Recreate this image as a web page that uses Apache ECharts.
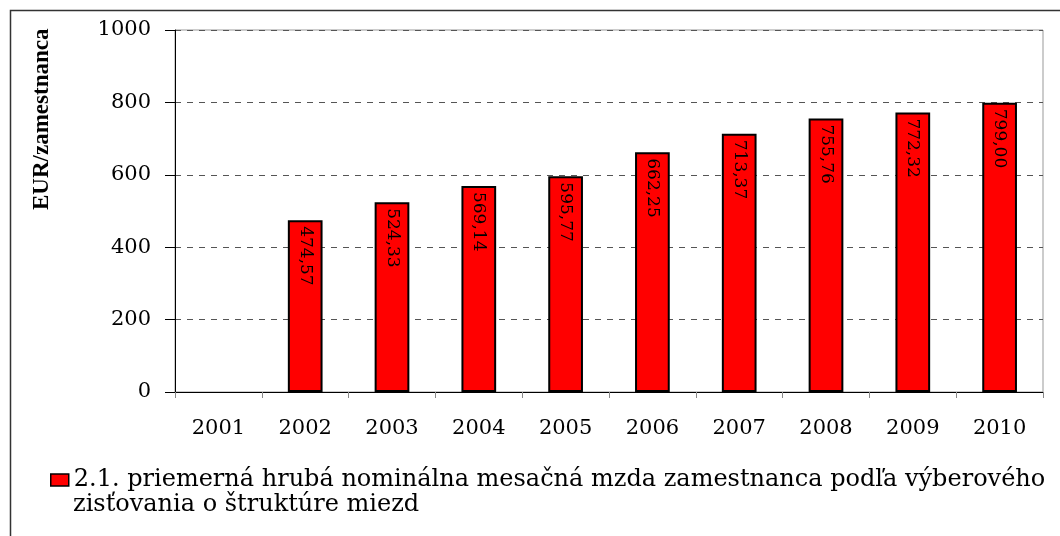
<!DOCTYPE html>
<html>
<head>
<meta charset="utf-8">
<script src="https://cdn.jsdelivr.net/npm/echarts@6/dist/echarts.min.js"></script>
<style>
  html, body, #main { margin: 0; padding: 0; width: 1060px; height: 536px; overflow: hidden; background: #fff; }
</style>
</head>
<body>
<div id="main"></div>
<script>
// data
var years = ["2001", "2002", "2003", "2004", "2005", "2006", "2007", "2008", "2009", "2010"];
var wages = [null, 474.57, 524.33, 569.14, 595.77, 662.25, 713.37, 755.76, 772.32, 799.00];
var seriesName = "2.1. priemerná hrubá nominálna mesačná mzda zamestnanca podľa výberového";
var seriesNameCont = "zisťovania o štruktúre miezd";
var axisTitle = "EUR/zamestnanca";

var serif = "'DejaVu Serif', 'Liberation Serif', serif";

var myChart = echarts.init(document.getElementById("main"));
var option = {
  animation: false,
  grid: {
    left: 175,
    top: 30,
    right: 17,
    bottom: 144,
    show: true,
    borderColor: "#999",
    borderWidth: 1,
    containLabel: false
  },
  graphic: [
    {
      // outer frame
      type: "rect",
      shape: { x: 10.5, y: 10.5, width: 1070, height: 560 },
      style: { fill: "none", stroke: "#333", lineWidth: 1.5 },
      silent: true
    },
    {
      type: "text",
      x: 42,
      y: 210,
      rotation: Math.PI / 2,
      style: {
        text: axisTitle,
        font: "bold 23px 'Liberation Serif', serif",
        fill: "#000",
        textAlign: "left",
        textVerticalAlign: "middle"
      }
    },
    {
      // second line of the legend text
      type: "text",
      x: 73,
      y: 505,
      style: {
        text: seriesNameCont,
        font: "24px " + serif,
        fill: "#000",
        textAlign: "left",
        textVerticalAlign: "middle"
      }
    }
  ],
  legend: {
    left: 45,
    top: 463,
    itemWidth: 18,
    itemHeight: 12,
    itemGap: 8,
    icon: "rect",
    data: [seriesName],
    itemStyle: { borderColor: "#000", borderWidth: 1.5 },
    textStyle: {
      fontFamily: serif,
      fontSize: 24,
      color: "#000",
      padding: [0, 0, 0, 0]
    }
  },
  xAxis: {
    type: "category",
    data: years,
    axisLine: { lineStyle: { color: "#000", width: 1 } },
    axisTick: { show: true, alignWithLabel: false, length: 6, lineStyle: { color: "#888" } },
    axisLabel: { color: "#000", fontFamily: serif, fontSize: 21, margin: 26 }
  },
  yAxis: {
    type: "value",
    min: 0,
    max: 1000,
    interval: 200,
    axisLine: { show: true, lineStyle: { color: "#000", width: 1 } },
    axisTick: { show: true, inside: false, length: 10, lineStyle: { color: "#000", width: 1 } },
    axisLabel: {
      color: "#000",
      fontFamily: serif,
      fontSize: 21,
      margin: 24,
      formatter: function (v) { return String(v); }
    },
    splitLine: { show: true, lineStyle: { color: "#555", type: [6, 6], width: 1 } }
  },
  series: [
    {
      name: seriesName,
      type: "bar",
      data: wages,
      barWidth: "40%",
      itemStyle: { color: "#FF0000", borderColor: "#000", borderWidth: 2 },
      label: {
        show: true,
        position: "insideTop",
        rotate: -90,
        align: "left",
        verticalAlign: "middle",
        distance: 6,
        color: "#000",
        fontFamily: serif,
        fontSize: 17,
        formatter: function (p) {
          return p.value == null ? "" : p.value.toFixed(2).replace(".", ",");
        }
      }
    }
  ]
};
myChart.setOption(option);
</script>
</body>
</html>
